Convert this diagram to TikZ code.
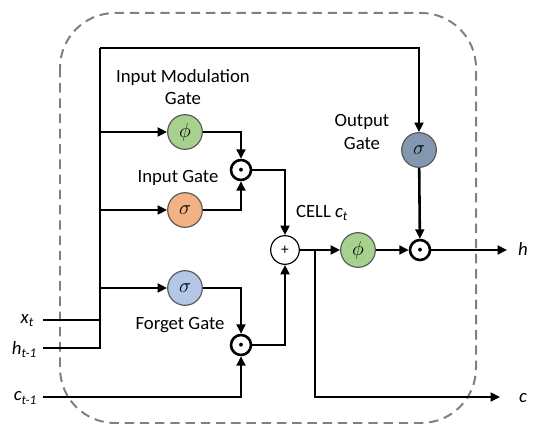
\documentclass[tikz,border=0pt]{standalone}
\usepackage{fontspec}
\setmainfont{Carlito}
\usepackage{tikz}
\usetikzlibrary{positioning, arrows.meta}
\usepackage{xcolor}
\definecolor{phigreen}{RGB}{169,209,142}
\definecolor{sigorange}{RGB}{244,177,131}
\definecolor{sigblue}{RGB}{180,199,231}
\definecolor{sigslate}{RGB}{132,151,176}
\tikzset{
  gate/.style={circle, draw=black!65, line width=1pt, minimum size=1.04cm,
               inner sep=0pt, font=\fontsize{19}{22}\selectfont},
  mult/.style={circle, draw=black, line width=2.2pt, fill=white,
               minimum size=0.6cm, inner sep=0pt, font=\footnotesize},
  addop/.style={circle, draw=black, line width=1pt, fill=white,
                minimum size=0.86cm, inner sep=0pt, font=\fontsize{13}{15}\selectfont},
  wire/.style={line width=2.2pt},
  arr/.style={-{Triangle[length=8pt,width=7.5pt]}, line width=2.2pt},
  lbl/.style={align=center, font=\fontsize{16}{19.5}\selectfont},
  dashbox/.style={draw=black!50, line width=1.7pt, dash pattern=on 8pt off 5pt,
                  rounded corners=1.65cm},
}

\begin{document}
\begin{tikzpicture}[x=0.03cm, y=-0.03cm]
        \useasboundingbox (0,0) rectangle (533,432);
        \draw[dashbox] (60,13) rectangle (476,423);

        \node[gate, fill=phigreen] (phim) at (185,132) {$\phi$};
        \node[gate, fill=sigorange] (sigi) at (185,210) {$\sigma$};
        \node[gate, fill=sigblue] (sigf) at (185,288) {$\sigma$};
        \node[gate, fill=sigslate] (sigo) at (419,150) {$\sigma$};
        \node[mult] (multi) at (241,170) {$\bullet$};
        \node[mult] (multf) at (241,345) {$\bullet$};
        \node[addop] (plus) at (285,250) {+};
        \node[gate, fill=phigreen] (phio) at (358,250) {$\phi$};
        \node[mult] (multo) at (420,250) {$\bullet$};

        \coordinate (trunk) at (100,48);
        \coordinate (xin) at (43,320);
        \coordinate (hin) at (43,348);
        \coordinate (cin) at (43,397);
        \coordinate (split) at (315,250);
        \coordinate (hout) at (507,250);
        \coordinate (cout) at (500,397);

        \node[lbl] (imlbl) at (183,87) {Input Modulation\\Gate};
        \node[lbl] (iglbl) at (178,178) {Input Gate};
        \node[lbl] (fglbl) at (180,325) {Forget Gate};
        \node[lbl] (oglbl) at (362,132) {Output\\Gate};
        \node[lbl] (celllbl) at (322,213) {CELL \textit{c}\textsubscript{\textit{t}}};
        \node[lbl, anchor=east] (xlbl) at (38,321) {\textit{x}\textsubscript{\textit{t}}};
        \node[lbl, anchor=east] (hlbl) at (41,350) {\textit{h}\textsubscript{\textit{t-1}}};
        \node[lbl, anchor=east] (clbl) at (41,398) {\textit{c}\textsubscript{\textit{t-1}}};
        \node[lbl, anchor=west, inner xsep=0pt] (hout lbl) at (518,249) {\textit{h}};
        \node[lbl, anchor=west, inner xsep=0pt] (cout lbl) at (519,398) {\textit{c}};

        \draw[wire] (hin) -| (trunk);
        \draw[wire] (xin) -- (trunk |- xin);
        \draw[arr] (trunk) -| (sigo);
        \draw[arr] (trunk |- phim) -- (phim);
        \draw[arr] (trunk |- sigi) -- (sigi);
        \draw[arr] (trunk |- sigf) -- (sigf);
        \draw[arr] (phim) -| (multi);
        \draw[arr] (sigi) -| (multi);
        \draw[arr] (sigf) -| (multf);
        \draw[arr] (cin) -| (multf);
        \draw[arr] (multi) -| (plus);
        \draw[arr] (multf) -| (plus);
        \draw[arr] (plus) -- (phio);
        \draw[arr] (split) |- (cout);
        \draw[arr] (phio) -- (multo);
        \draw[arr] (sigo) -- (multo);
        \draw[arr] (multo) -- (hout);
      \end{tikzpicture}
\end{document}
